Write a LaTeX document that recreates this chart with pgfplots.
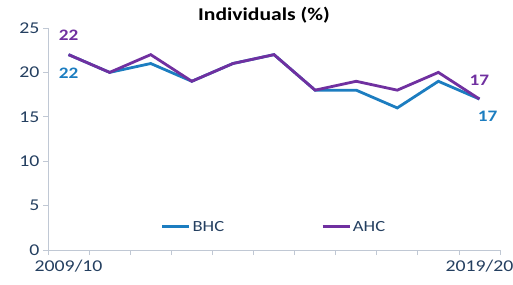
\documentclass[border=0pt]{standalone}
\usepackage{pgfplots}
\pgfplotsset{compat=1.18}
\usepackage{fontspec}
\setmainfont{Carlito}[FakeStretch=1.2]
\definecolor{bhc}{HTML}{1C7DC0}
\definecolor{ahc}{HTML}{7030A0}
\definecolor{txt}{HTML}{243F60}
\definecolor{axl}{HTML}{C0C8D4}
\pgfplotstableread{
x bhc ahc
0 22 22
1 20 20
2 21 22
3 19 19
4 21 21
5 22 22
6 18 18
7 18 19
8 16 18
9 19 20
10 17 17
}\data
\begin{document}
\begin{tikzpicture}
\begin{axis}[
  scale only axis, width=452bp, height=222bp,
  xmin=-0.5, xmax=10.5, ymin=0, ymax=25,
  ytick={0,5,...,25},
  xtick={-0.5,0.5,...,10.5}, xticklabels={},
  extra x ticks={0,10}, extra x tick labels={2009/10,2019/20},
  extra x tick style={major tick length=0pt, xticklabel style={yshift=-7bp}},
  axis x line*=bottom, axis y line*=left,
  axis line style={axl, line width=0.8bp},
  tick style={axl, line width=0.8bp},
  major tick length=5bp, tick align=outside,
  ticklabel style={font=\fontsize{16.5bp}{18bp}\selectfont, text=txt},
  /pgf/number format/assume math mode=true,
  clip=false,
  title={\textbf{Individuals (\%)}},
  title style={font=\fontsize{18bp}{20bp}\selectfont, text=black, yshift=-5bp, xshift=-10bp},
  legend style={at={(0.5,0.06)}, anchor=south, draw=none, fill=none,
    legend columns=2, font=\fontsize{15.5bp}{17bp}\selectfont, text=txt,
    /tikz/every even column/.append style={column sep=95bp}},
  legend image code/.code={\draw[#1, line width=2.8bp] (0bp,0bp) -- (27bp,0bp);},
]
\addplot[bhc, line width=2.8bp] table[x=x, y=bhc] {\data};
\addlegendentry{BHC}
\addplot[ahc, line width=2.8bp] table[x=x, y=ahc] {\data};
\addlegendentry{AHC}
\node[text=ahc, font=\bfseries\fontsize{16bp}{18bp}\selectfont] at (axis cs:0,24.2) {22};
\node[text=bhc, font=\bfseries\fontsize{16bp}{18bp}\selectfont] at (axis cs:0,19.9) {22};
\node[text=ahc, font=\bfseries\fontsize{16bp}{18bp}\selectfont] at (axis cs:10,19.1) {17};
\node[text=bhc, font=\bfseries\fontsize{16bp}{18bp}\selectfont] at (axis cs:10.2,15.1) {17};
\end{axis}
\pgfresetboundingbox
\path (current axis.south west) ++(-48bp,-35bp) coordinate (bl);
\path (current axis.north east) ++(13bp,28bp) coordinate (tr);
\path[use as bounding box] (bl) rectangle (tr);
\end{tikzpicture}
\end{document}
